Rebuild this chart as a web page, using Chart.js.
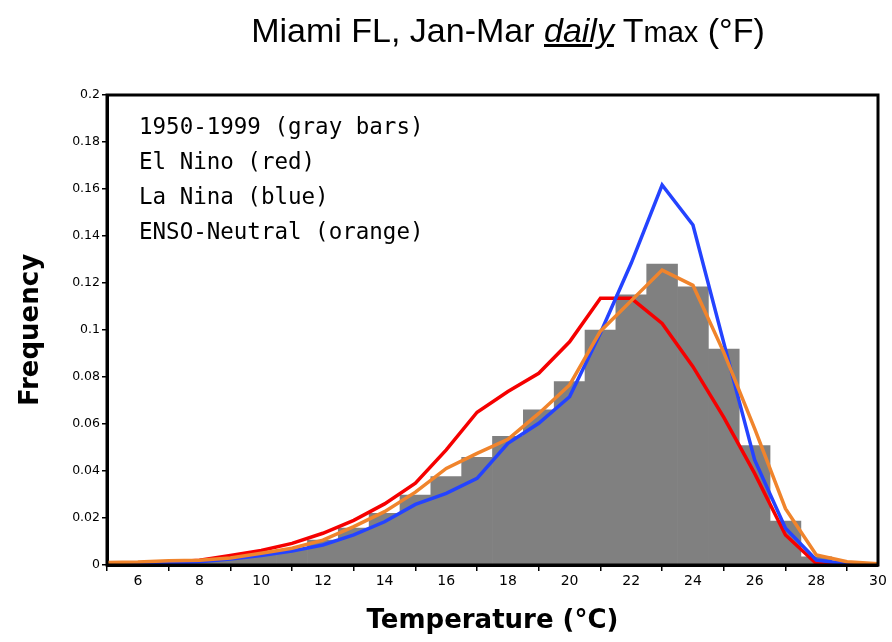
<!DOCTYPE html>
<html><head><meta charset="utf-8">
<script src="https://cdn.jsdelivr.net/npm/chart.js@4/dist/chart.umd.min.js"></script>
<style>
html,body{margin:0;padding:0;background:#fff;}
#wrap{position:relative;width:892px;height:642px;overflow:hidden;}
canvas{position:absolute;left:0;top:0;}
#title{position:absolute;left:0;top:11px;width:892px;text-align:center;font-family:"Liberation Sans",Arial,sans-serif;font-size:34px;color:#000;padding-left:124px;box-sizing:border-box;white-space:nowrap;}
#title .sub{font-size:29px;}
</style></head>
<body>
<div id="wrap">
<canvas id="c" width="892" height="642"></canvas>
<div id="title">Miami FL, Jan-Mar <i><u>daily</u></i> T<span class="sub">max</span> (°F)</div>
</div>
<script>
// Temperature (°C) grid
const temps = [5,6,7,8,9,10,11,12,13,14,15,16,17,18,19,20,21,22,23,24,25,26,27,28,29,30];
// Gray bars 1950-1999 (bin centres and frequencies)
const barTemps = [6,7,8,9,10,11,12,13,14,15,16,17,18,19,20,21,22,23,24,25,26,27,28,29];
const climFreq = [0.0003,0.0006,0.0012,0.0025,0.0043,0.0064,0.0106,0.0157,0.022,0.0298,0.0376,0.0458,0.0548,0.066,0.078,0.100,0.115,0.128,0.1184,0.0919,0.0508,0.0187,0.0035,0.0014];
// El Nino (red)
const elNino  = [0.0005,0.0008,0.0012,0.002,0.004,0.0062,0.0092,0.0135,0.019,0.026,0.0348,0.049,0.065,0.0738,0.0816,0.095,0.1135,0.1135,0.1028,0.0844,0.0628,0.039,0.0128,0.0006,0,0];
// La Nina (blue)
const laNina  = [0.0004,0.0005,0.0008,0.0014,0.0025,0.004,0.006,0.0085,0.0128,0.0184,0.0258,0.0305,0.0369,0.0518,0.0603,0.0716,0.0987,0.1285,0.1617,0.1447,0.0945,0.0447,0.0156,0.0021,0.0005,0];
// ENSO-Neutral (orange)
const neutral = [0.0011,0.0013,0.0018,0.002,0.003,0.005,0.0071,0.0106,0.0163,0.0227,0.031,0.0411,0.0475,0.0535,0.0645,0.0766,0.0995,0.1125,0.1255,0.119,0.0905,0.058,0.024,0.0043,0.0014,0.0005];
const xTicks = [6,8,10,12,14,16,18,20,22,24,26,28,30];
const yTicks = [0,0.02,0.04,0.06,0.08,0.1,0.12,0.14,0.16,0.18,0.2];
const notes = ["1950-1999 (gray bars)","El Nino (red)","La Nina (blue)","ENSO-Neutral (orange)"];

const pts = arr => temps.map((t,i)=>({x:t,y:arr[i]}));

const framePlugin = {
  id:'frame',
  afterDatasetsDraw(chart){
    const {ctx, chartArea:a} = chart;
    ctx.save();
    ctx.strokeStyle='#000'; ctx.lineWidth=3;
    ctx.strokeRect(a.left, a.top, a.right-a.left, a.bottom-a.top);
    ctx.fillStyle='#000';
    ctx.font='22.5px "DejaVu Sans Mono", monospace';
    ctx.textBaseline='middle';
    ctx.textAlign='left';
    notes.forEach((s,i)=>{ ctx.fillText(s, a.left+32, a.top+33+i*35); });
    ctx.restore();
  }
};

new Chart(document.getElementById('c'), {
  type:'bar',
  data:{
    datasets:[
      {type:'line', label:'ENSO-Neutral', data:pts(neutral), borderColor:'#f0842c', borderWidth:3.5, pointRadius:0, tension:0, order:0},
      {type:'line', label:'La Nina', data:pts(laNina), borderColor:'#2443ff', borderWidth:3.5, pointRadius:0, tension:0, order:1},
      {type:'line', label:'El Nino', data:pts(elNino), borderColor:'#f50000', borderWidth:3.5, pointRadius:0, tension:0, order:2},
      {type:'bar', label:'1950-1999', data:barTemps.map((t,i)=>({x:t,y:climFreq[i]})), backgroundColor:'#808080', borderWidth:0, barPercentage:1, categoryPercentage:1, order:3}
    ]
  },
  options:{
    responsive:false, animation:false, devicePixelRatio:1,
    layout:{padding:{top:95,right:14,left:0,bottom:0}},
    plugins:{legend:{display:false}, tooltip:{enabled:false}, title:{display:false}},
    scales:{
      x:{type:'linear', min:5, max:30, offset:false,
        afterBuildTicks:s=>{ s.ticks = xTicks.map(v=>({value:v})); },
        afterFit:s=>{ s.height = 77; },
        grid:{display:true, drawOnChartArea:false, drawTicks:true, tickLength:6, color:'#000', lineWidth:1.5},
        border:{display:true, color:'#000', width:3},
        ticks:{color:'#000', font:{family:'"DejaVu Sans", sans-serif', size:14}, padding:2, maxRotation:0, autoSkip:false,
          callback:v=>String(v)},
        title:{display:true, text:'Temperature (°C)', color:'#000', font:{family:'"DejaVu Sans", sans-serif', size:26, weight:'bold'}, padding:{top:0,bottom:5}}
      },
      y:{min:0, max:0.2,
        afterBuildTicks:s=>{ s.ticks = yTicks.map(v=>({value:v})); },
        afterFit:s=>{ s.width = 107; },
        grid:{display:true, drawOnChartArea:false, drawTicks:true, tickLength:5, color:'#000', lineWidth:1.5},
        border:{display:true, color:'#000', width:3},
        ticks:{color:'#000', font:{family:'"DejaVu Sans", sans-serif', size:12.5}, padding:2,
          callback:v=> v===0 ? '0' : String(+v.toFixed(2))},
        title:{display:true, text:'Frequency', color:'#000', font:{family:'"DejaVu Sans", sans-serif', size:26, weight:'bold'}, padding:{top:16,bottom:0}}
      }
    }
  },
  plugins:[framePlugin]
});
</script>
</body></html>
